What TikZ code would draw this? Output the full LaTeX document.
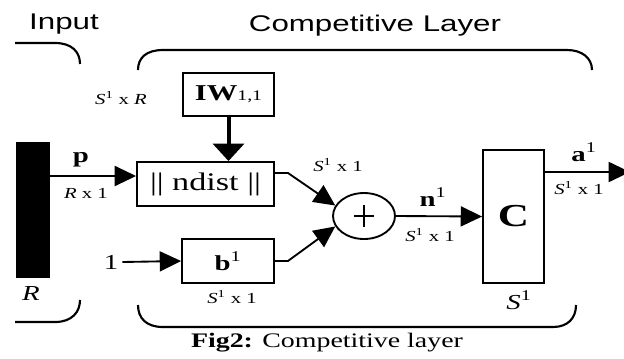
\documentclass[tikz,border=0pt]{standalone}
\usepackage{fontspec}
\setmainfont{Liberation Serif}[FakeStretch=1.35]
\newfontfamily\headfont{Liberation Sans}[FakeStretch=1.38]
\usetikzlibrary{arrows.meta,shapes.geometric}

\tikzset{
  box/.style={draw, line width=1.4pt, inner sep=0pt},
  wire/.style={line width=1.4pt},
  arr/.style={wire, -{Triangle[length=16pt,width=15pt]}},
  arrv/.style={line width=3pt, -{Triangle[length=13pt,width=23pt]}},
  brk/.style={line width=1.6pt},
  dimlbl/.style={font=\fontsize{11.5}{11.5}\selectfont, inner sep=0pt},
  siglbl/.style={font=\fontsize{16}{16}\selectfont\bfseries, inner sep=0pt},
  headlbl/.style={font=\headfont\fontsize{17}{17}\selectfont, inner sep=0pt, anchor=base}
}

\begin{document}
\begin{tikzpicture}[x=0.75pt, y=-0.75pt]
  \useasboundingbox (0,0) rectangle (624,358);

  % Headings
  \node[headlbl] (input) at (64,29) {Input};
  \node[headlbl] (layer) at (375,31.5) {Competitive Layer};

  % Brackets round the input and the layer
  \draw[brk] (15,43) -- (55,43) .. controls (72,43) and (80,52) .. (80,64);
  \draw[brk] (15,322) -- (55,322) .. controls (72,322) and (80,312) .. (80,300);
  \draw[brk] (138,70) .. controls (138,58) and (146,50) .. (163,50) -- (567,50)
    .. controls (582,50) and (592,58) .. (592,70);
  \draw[brk] (138,305) .. controls (138,318) and (146,327) .. (163,327) -- (553,327)
    .. controls (568,327) and (576,318) .. (576,305);

  % Blocks
  \node[box, fill=black, minimum width=24pt, minimum height=100.5pt] (bar) at (33,210) {};
  \node[box, minimum width=68.25pt, minimum height=32.25pt] (iw) at (228.5,94.5)
    {\fontsize{17}{17}\selectfont\textbf{IW}{\fontsize{11}{11}\selectfont 1,1}};
  \node[box, minimum width=102.75pt, minimum height=33pt,
    font=\fontsize{19}{19}\selectfont] (ndist) at (205.5,184) {|| ndist ||};
  \node[box, minimum width=69pt, minimum height=33pt] (bias) at (228,261)
    {\fontsize{16}{16}\selectfont\textbf{b}\textsuperscript{1}};
  \node[draw, ellipse, line width=1.4pt, minimum width=46.5pt, minimum height=34.5pt] (sum) at (364,216) {};
  \draw[line width=0.9pt] (sum.center) ++(-10,0) -- ++(20,0);
  \draw[line width=0.9pt] (sum.center) ++(0,-11) -- ++(0,22);
  \node[box, minimum width=45.75pt, minimum height=99.75pt,
    font=\fontsize{24}{24}\selectfont\bfseries] (comp) at (513.5,216.5) {C};
  \node[font=\fontsize{16}{16}\selectfont, inner sep=3pt] (one) at (111,262) {1};

  % Ports
  \coordinate (pin) at (137,176);
  \coordinate (nout) at (288,173);
  \coordinate (aout) at (630,172);

  % Connectors
  \draw[arr] (bar.east |- pin) -- (ndist.west |- pin);
  \draw[arrv] (iw.south) -- (iw.south |- ndist.north);
  \draw[arr] (ndist.east |- nout) -- (nout) -- (sum.160);
  \draw[arr] (one.east) -- (bias.west);
  \draw[arr] (bias.east) -- ++(13,0) -- (sum.200);
  \draw[arr] (sum.east) -- (comp.west);
  \draw[arr] (comp.east |- aout) -- (aout);

  % Signal names and sizes
  \node[siglbl] (lp) at (81,160) {p};
  \node[siglbl] (ln) at (433,197) {n\textsuperscript{\mdseries 1}};
  \node[siglbl] (la) at (584,152) {a\textsuperscript{\mdseries 1}};
  \node[dimlbl] (lsr) at (121,98) {\textit{S}\textsuperscript{1} x \textit{R}};
  \node[dimlbl] (lrx) at (86,193) {\textit{R} x 1};
  \foreach \nm/\x/\y in {ls1/338/165, ls2/430/235, ls3/232/297, ls4/579/188}
    \node[dimlbl] (\nm) at (\x,\y) {\textit{S}\textsuperscript{1} x 1};
  \node[font=\fontsize{16}{16}\selectfont\itshape, inner sep=0pt] (lr) at (31,294) {R};
  \node[font=\fontsize{16}{16}\selectfont, inner sep=0pt] (lsc) at (519,300) {\textit{S}\textsuperscript{1}};

  % Caption
  \node[anchor=base, font=\fontsize{15.5}{15.5}\selectfont, inner sep=0pt] (cap) at (327,347)
    {\textbf{Fig2:} Competitive layer};
\end{tikzpicture}
\end{document}
